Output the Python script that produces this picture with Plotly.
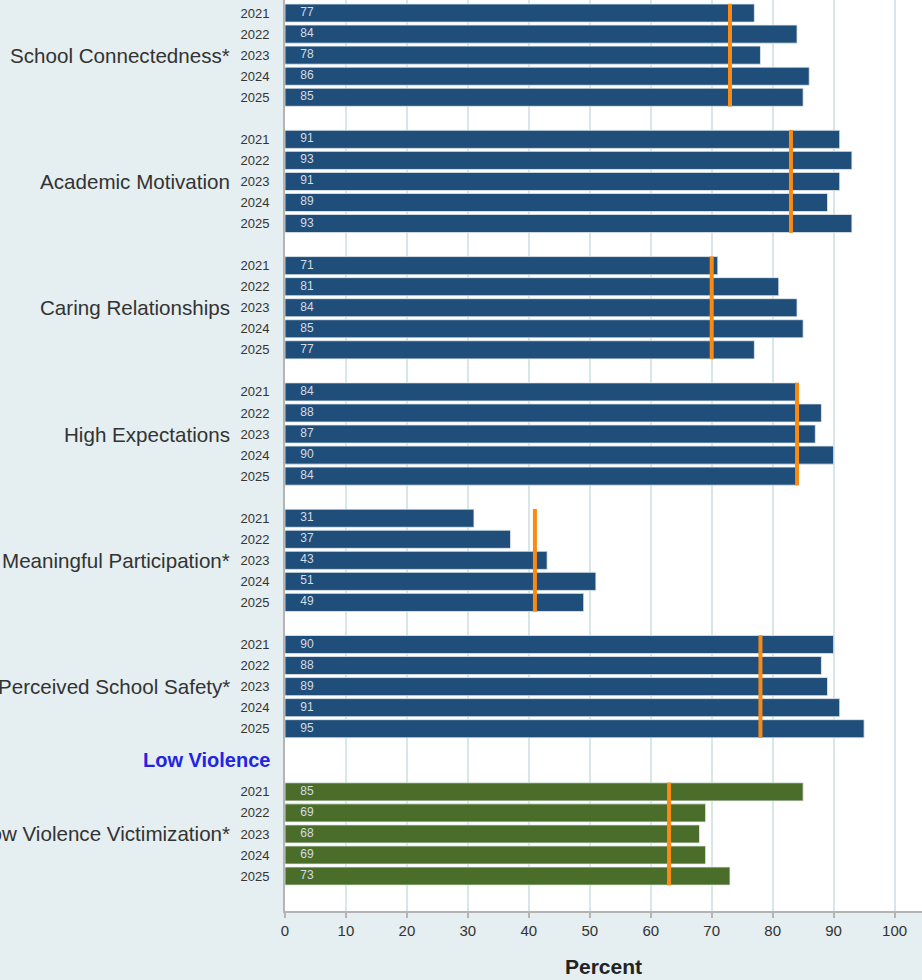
import plotly.graph_objects as go

categories = ["School Connectedness*", "Academic Motivation", "Caring Relationships",
              "High Expectations", "Meaningful Participation*", "Perceived School Safety*",
              "Low Violence Victimization*"]
years = ["2021", "2022", "2023", "2024", "2025"]
values = {
    "School Connectedness*": [77, 84, 78, 86, 85],
    "Academic Motivation": [91, 93, 91, 89, 93],
    "Caring Relationships": [71, 81, 84, 85, 77],
    "High Expectations": [84, 88, 87, 90, 84],
    "Meaningful Participation*": [31, 37, 43, 51, 49],
    "Perceived School Safety*": [90, 88, 89, 91, 95],
    "Low Violence Victimization*": [85, 69, 68, 69, 73],
}
benchmark = [73, 83, 70, 84, 41, 78, 63]
section_label = "Low Violence"
green_categories = ["Low Violence Victimization*"]

BLUE = "#1f4e7a"
GREEN = "#4a6e2a"
ORANGE = "#fb8a12"
FONT = "Liberation Sans, Arial, sans-serif"

# slot layout (one blank slot between groups, two before the section)
group_start = [0, 6, 12, 18, 24, 30, 37]
section_slot = 35.5

fig = go.Figure()

for gi, cat in enumerate(categories):
    ys = [group_start[gi] + k for k in range(len(years))]
    col = GREEN if cat in green_categories else BLUE
    fig.add_trace(go.Bar(
        x=values[cat], y=ys, orientation="h", width=0.86,
        marker=dict(color=col, line=dict(color="#e4ebef", width=0.8)),
        hoverinfo="skip", showlegend=False,
    ))
    fig.add_trace(go.Scatter(
        x=[2.5] * len(ys), y=ys, mode="text", text=[str(v) for v in values[cat]],
        textposition="middle right",
        textfont=dict(family=FONT, size=12, color="#d5dce4"),
        hoverinfo="skip", showlegend=False,
    ))
    fig.add_trace(go.Scatter(
        x=[benchmark[gi], benchmark[gi]], y=[ys[0] - 0.44, ys[-1] + 0.44],
        mode="lines", line=dict(color=ORANGE, width=4),
        hoverinfo="skip", showlegend=False,
    ))
    fig.add_annotation(
        x=-0.083, xref="paper", y=group_start[gi] + 2, yref="y",
        text=cat, showarrow=False, xanchor="right", yanchor="middle",
        font=dict(family=FONT, size=20.6, color="#333333"),
    )

fig.add_annotation(
    x=-0.021, xref="paper", y=section_slot, yref="y",
    text="<b>" + section_label + "</b>", showarrow=False, xanchor="right", yanchor="middle",
    font=dict(family=FONT, size=20, color="#2323e6"),
)

tickvals = []
ticktext = []
for gi in range(len(categories)):
    for k, yr in enumerate(years):
        tickvals.append(group_start[gi] + k)
        ticktext.append(yr)

fig.update_layout(
    width=922, height=980,
    margin=dict(l=285, r=0, t=0, b=69),
    paper_bgcolor="#e5eef0",
    plot_bgcolor="#ffffff",
    barmode="overlay",
    xaxis=dict(
        range=[0, 104.5], tickvals=list(range(0, 101, 10)),
        showgrid=True, gridcolor="#d9e6e8", gridwidth=2,
        showline=True, linecolor="#b4b4b4", linewidth=2,
        ticks="outside", ticklen=5, tickcolor="#b4b4b4", tickwidth=2,
        tickfont=dict(family=FONT, size=15, color="#333333"),
        title=dict(text="<b>Percent</b>", font=dict(family=FONT, size=21, color="#222222"), standoff=21),
        zeroline=False, automargin=False, fixedrange=True,
    ),
    yaxis=dict(
        range=[42.66, -0.62], tickvals=tickvals, ticktext=ticktext,
        showgrid=False, zeroline=False,
        showline=True, linecolor="#b4b4b4", linewidth=2,
        ticks="", ticklabelstandoff=11,
        tickfont=dict(family=FONT, size=13, color="#333333"),
        automargin=False, fixedrange=True,
    ),
)

fig.write_html("out.html", config={"displayModeBar": False},
               post_script="document.body.style.margin='0';document.body.style.background='#e5eef0';")
